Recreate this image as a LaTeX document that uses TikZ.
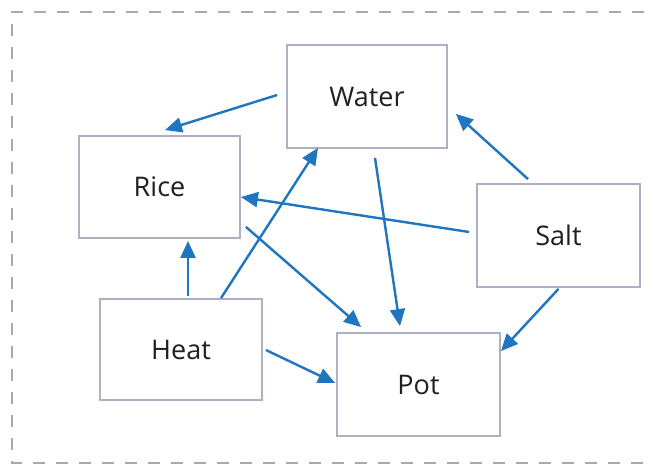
\documentclass[tikz,border=0pt]{standalone}
\usepackage{fontspec}
\setmainfont{Open Sans}
\usetikzlibrary{arrows.meta}
\definecolor{arrowblue}{RGB}{30,117,192}
\definecolor{boxline}{RGB}{175,175,198}
\definecolor{frameline}{RGB}{170,170,160}
\definecolor{txt}{RGB}{35,31,32}
\tikzset{
  itembox/.style={draw=boxline, line width=1.8pt, fill=white, inner sep=0pt,
    text=txt, font=\fontsize{27}{31}\selectfont, anchor=center},
  link/.style={draw=arrowblue, line width=2.4pt,
    -{Triangle[length=17pt,width=15pt]}},
}
\begin{document}
\begin{tikzpicture}[x=1pt,y=-1pt]
\useasboundingbox (0,0) rectangle (653,465);
\draw[frameline, line width=2pt, dash pattern=on 12pt off 11pt]
  (690,12) -- (12,12) -- (12,463) -- (690,463);
\node[itembox, minimum width=160pt, minimum height=103pt] (water) at (367,96.5) {Water};
\node[itembox, minimum width=161pt, minimum height=102pt] (rice) at (159.5,187) {Rice};
\node[itembox, minimum width=163pt, minimum height=103pt] (salt) at (558.5,235.5) {Salt};
\node[itembox, minimum width=162pt, minimum height=101pt] (heat) at (181,349.5) {Heat};
\node[itembox, minimum width=163pt, minimum height=103pt] (pot) at (418.5,384.5) {Pot};
\draw[link] ([shift={(-9,-1.5)}]water.west) -- ([shift={(5.5,-5)}]rice.north);
\draw[link] ([shift={(-30.5,-4)}]salt.north) -- ([shift={(8,-35)}]water.south east);
\draw[link] ([shift={(-7,-3.5)}]salt.west) -- ([shift={(0,10)}]rice.east);
\draw[link] ([shift={(0,1)}]salt.south) -- ([shift={(0,19)}]pot.north east);
\draw[link] ([shift={(8,9)}]water.south) -- ([shift={(-18.5,-6)}]pot.north);
\draw[link] ([shift={(5,-12)}]rice.south east) -- ([shift={(25,-5)}]pot.north west);
\draw[link] ([shift={(7,-2)}]heat.north) -- ([shift={(28.5,2)}]rice.south);
\draw[link] ([shift={(40,0)}]heat.north) -- ([shift={(-49,-1)}]water.south);
\draw[link] ([shift={(3,0.5)}]heat.east) -- ([shift={(-1,-1.5)}]pot.west);
\end{tikzpicture}
\end{document}
